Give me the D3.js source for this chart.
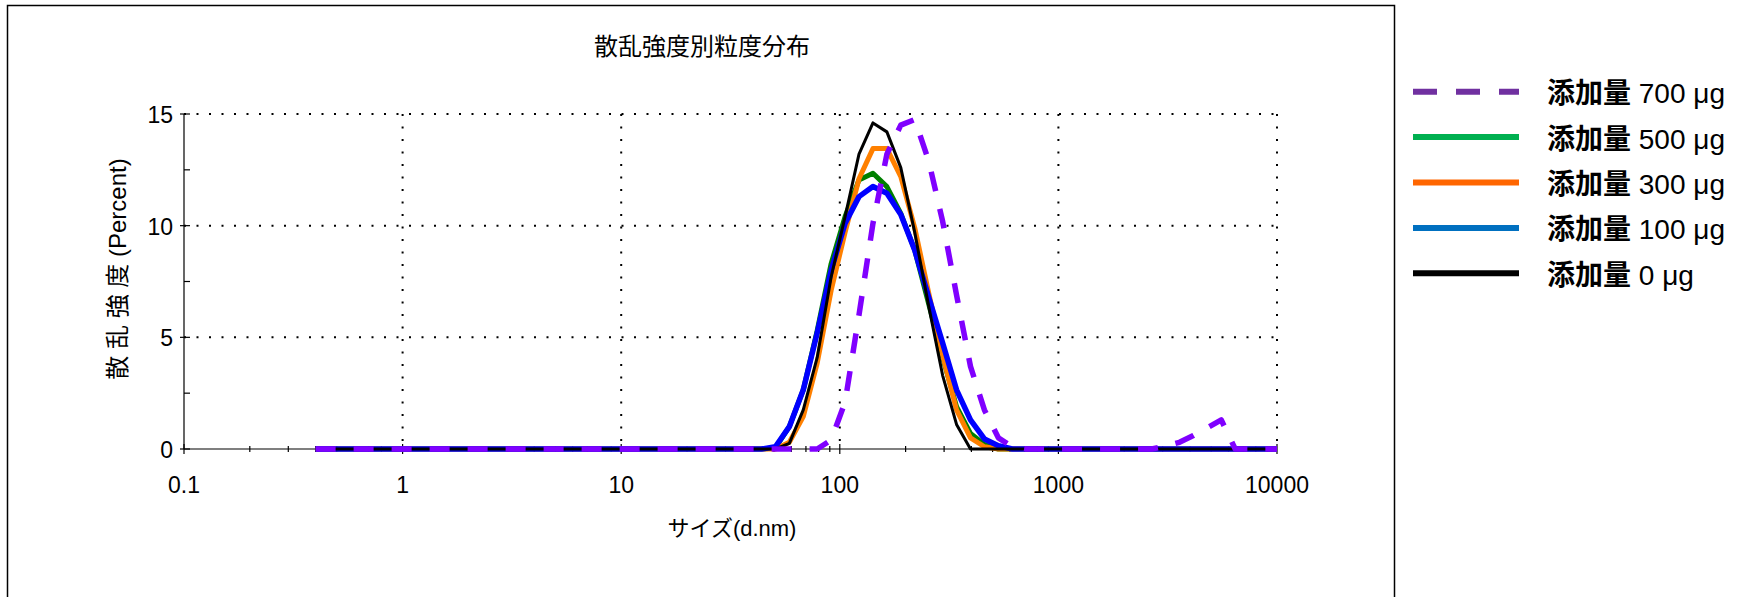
<meta charset="utf-8">
<html>
<head>
<style>
  body { margin: 0; background: #fff; }
  text { font-family: "Liberation Sans", Arial, "Noto Sans CJK JP", sans-serif; fill: #000; }
  .jp { font-family: "Noto Sans CJK JP", sans-serif; }
</style>
</head>
<body>
<div id="chart"></div>
<script src="https://d3js.org/d3.v7.min.js"></script>
<script>
// size classes (d.nm)
var sizes = [0.4, 0.4632, 0.5365, 0.6213, 0.7195, 0.8332, 0.9649, 1.117, 1.294, 1.499,
  1.736, 2.01, 2.328, 2.696, 3.122, 3.615, 4.187, 4.849, 5.615, 6.503,
  7.531, 8.721, 10.1, 11.7, 13.54, 15.69, 18.17, 21.04, 24.36, 28.21,
  32.67, 37.84, 43.82, 50.75, 58.77, 68.06, 78.82, 91.28, 105.7, 122.4,
  141.8, 164.2, 190.1, 220.2, 255.0, 295.3, 342.0, 396.1, 458.7, 531.2,
  615.1, 712.4, 825.0, 955.4, 1106, 1281, 1484, 1718, 1990, 2305,
  2669, 3091, 3580, 4145, 4801, 5560, 6439, 7456, 8635, 10000];

// intensity (%) per size class
var ug0 = [0,0,0,0,0,0,0,0,0,0, 0,0,0,0,0,0,0,0,0,0, 0,0,0,0,0,0,0,0,0,0,
  0,0,0,0,0.25,1.75,4.1,7.7,10.4,13.2, 14.6,14.2,12.6,9.7,6.4,3.3,1.1,0,0,0,
  0,0,0,0,0,0,0,0,0,0, 0,0,0,0,0,0,0,0,0,0];
var ug100 = [0,0,0,0,0,0,0,0,0,0, 0,0,0,0,0,0,0,0,0,0, 0,0,0,0,0,0,0,0,0,0,
  0,0,0,0.1,1.0,2.65,5.2,8.0,10.1,11.3, 11.75,11.45,10.5,8.9,6.8,4.75,2.65,1.3,0.45,0.15,
  0,0,0,0,0,0,0,0,0,0, 0,0,0,0,0,0,0,0,0,0];
var ug300 = [0,0,0,0,0,0,0,0,0,0, 0,0,0,0,0,0,0,0,0,0, 0,0,0,0,0,0,0,0,0,0,
  0,0,0,0,0.3,1.45,3.85,7.1,9.7,12.1, 13.45,13.45,12.2,9.9,7.0,4.2,1.75,0.5,0.1,0,
  0,0,0,0,0,0,0,0,0,0, 0,0,0,0,0,0,0,0,0,0];
var ug500 = [0,0,0,0,0,0,0,0,0,0, 0,0,0,0,0,0,0,0,0,0, 0,0,0,0,0,0,0,0,0,0,
  0,0,0,0.05,1.0,2.65,5.3,8.3,10.4,12.05, 12.35,11.75,10.55,8.9,6.5,4.1,1.9,0.7,0.2,0,
  0,0,0,0,0,0,0,0,0,0, 0,0,0,0,0,0,0,0,0,0];
var ug700 = [0,0,0,0,0,0,0,0,0,0, 0,0,0,0,0,0,0,0,0,0, 0,0,0,0,0,0,0,0,0,0,
  0,0,0,0,0,0,0,0.4,2.1,6.0, 10.1,13.2,14.5,14.75,12.9,10.2,6.9,3.7,1.75,0.5,
  0.1,0,0,0,0,0,0,0,0,0, 0,0.13,0.3,0.6,0.95,1.3,0,0,0,0];

var xTicks = [0.1, 1, 10, 100, 1000, 10000];
var yTicks = [0, 5, 10, 15];
var yMinor = [2.5, 7.5, 12.5];
var legendLabels = ["700 μg", "500 μg", "300 μg", "100 μg", "0 μg"];

var W = 1759, H = 597;
var svg = d3.select("#chart").append("svg")
    .attr("width", W).attr("height", H);

// outer frame (bottom edge is cut off)
svg.append("rect")
    .attr("x", 7.5).attr("y", 5.5).attr("width", 1387).attr("height", 700)
    .attr("fill", "none").attr("stroke", "#000").attr("stroke-width", 1.5);

var x = d3.scaleLog().domain([0.1, 10000]).range([184, 1277]);
var y = d3.scaleLinear().domain([0, 15]).range([449, 114]);

// dotted grid
var grid = svg.append("g").attr("stroke", "#000").attr("stroke-width", 2)
    .attr("stroke-dasharray", "2,10.5");
grid.selectAll(".gy").data(yTicks.slice(1)).enter().append("line")
    .attr("x1", x(0.1)).attr("x2", x(10000))
    .attr("y1", function(d) { return y(d); }).attr("y2", function(d) { return y(d); });
grid.selectAll(".gx").data(xTicks.slice(1)).enter().append("line")
    .attr("y1", y(15)).attr("y2", y(0))
    .attr("x1", function(d) { return x(d); }).attr("x2", function(d) { return x(d); });

// axes lines and ticks
var ax = svg.append("g").attr("stroke", "#000").attr("stroke-width", 1.2);
ax.append("line").attr("x1", x(0.1)).attr("x2", x(10000)).attr("y1", y(0)).attr("y2", y(0));
ax.append("line").attr("x1", x(0.1)).attr("x2", x(0.1)).attr("y1", y(15)).attr("y2", y(0));
ax.selectAll(".ty").data(yTicks).enter().append("line")
    .attr("x1", x(0.1) - 4).attr("x2", x(0.1) + 6)
    .attr("y1", function(d) { return y(d); }).attr("y2", function(d) { return y(d); });
ax.selectAll(".tym").data(yMinor).enter().append("line")
    .attr("x1", x(0.1)).attr("x2", x(0.1) + 6)
    .attr("y1", function(d) { return y(d); }).attr("y2", function(d) { return y(d); });

var xMinor = [];
xTicks.slice(0, -1).forEach(function(t) {
  for (var k = 2; k <= 9; k++) xMinor.push(t * k);
});
ax.selectAll(".tx").data(xTicks).enter().append("line")
    .attr("y1", y(0) - 5).attr("y2", y(0) + 5)
    .attr("x1", function(d) { return x(d); }).attr("x2", function(d) { return x(d); });
ax.selectAll(".txm").data(xMinor).enter().append("line")
    .attr("y1", y(0) - 3).attr("y2", y(0) + 3)
    .attr("x1", function(d) { return x(d); }).attr("x2", function(d) { return x(d); });

// tick labels
svg.selectAll(".lx").data(xTicks).enter().append("text")
    .attr("x", function(d) { return x(d); }).attr("y", 493)
    .attr("text-anchor", "middle").attr("font-size", 23)
    .text(function(d) { return d; });
svg.selectAll(".ly").data(yTicks).enter().append("text")
    .attr("x", 173).attr("y", function(d) { return y(d) + 9; })
    .attr("text-anchor", "end").attr("font-size", 23)
    .text(function(d) { return d; });

// titles
svg.append("text").attr("class", "jp")
    .attr("x", 702).attr("y", 55).attr("text-anchor", "middle")
    .attr("font-size", 24).text("散乱強度別粒度分布");
svg.append("text")
    .attr("x", 732).attr("y", 536).attr("text-anchor", "middle")
    .attr("font-size", 22).text("サイズ(d.nm)");
svg.append("text")
    .attr("transform", "translate(126,269) rotate(-90)")
    .attr("text-anchor", "middle").attr("font-size", 24)
    .text("散 乱 強 度 (Percent)");

// curves
var series = [
  {v: ug500, color: "#008000", w: 5, dash: null},
  {v: ug300, color: "#ff8000", w: 5, dash: null},
  {v: ug100, color: "#0000ff", w: 5.5, dash: null},
  {v: ug0, color: "#000000", w: 3, dash: null},
  {v: ug700, color: "#8000ff", w: 5.5, dash: "20,18"}
];
var line = d3.line()
    .x(function(d, i) { return x(sizes[i]); })
    .y(function(d) { return y(d); });
series.forEach(function(s) {
  svg.append("path").datum(s.v)
      .attr("fill", "none").attr("stroke", s.color).attr("stroke-width", s.w)
      .attr("stroke-linejoin", "round")
      .attr("stroke-dasharray", s.dash)
      .attr("d", line);
});

// legend
var legendColors = ["#7030a0", "#00b050", "#ff6600", "#0070c0", "#000000"];
var lg = svg.selectAll(".lg").data(legendLabels).enter().append("g")
    .attr("transform", function(d, i) { return "translate(0," + (91.7 + i * 45.4) + ")"; });
lg.append("line")
    .attr("x1", 1413).attr("x2", 1519).attr("y1", 0).attr("y2", 0)
    .attr("stroke", function(d, i) { return legendColors[i]; })
    .attr("stroke-width", 6)
    .attr("stroke-dasharray", function(d, i) { return i == 0 ? "24,19" : null; });
var lt = lg.append("text").attr("x", 1547).attr("y", 11.5).attr("font-size", 28);
lt.append("tspan").attr("class", "jp").attr("font-weight", "bold").text("添加量");
lt.append("tspan").text(function(d) { return " " + d; });
</script>
</body>
</html>
